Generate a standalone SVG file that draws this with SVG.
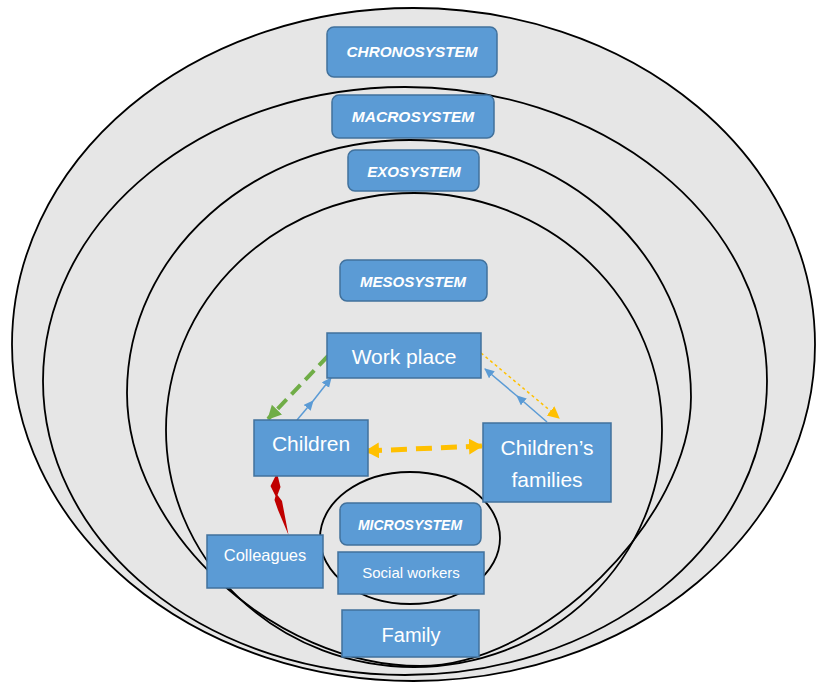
<svg xmlns="http://www.w3.org/2000/svg" width="816" height="684" viewBox="0 0 816 684">
  <style>
    .ring { fill: none; stroke: #000; stroke-width: 1.8; }
    .box { fill: #5b9bd5; stroke: #41719c; stroke-width: 1.5; }
    .sys { font-family: "Liberation Sans", Arial, sans-serif; font-weight: bold; font-style: italic; fill: #fff; text-anchor: middle; }
    .lbl { font-family: "Liberation Sans", Arial, sans-serif; fill: #fff; text-anchor: middle; }
  </style>
  <defs>
    <marker id="ahGreen" markerUnits="userSpaceOnUse" markerWidth="16" markerHeight="16" refX="13" refY="7" orient="auto">
      <path d="M0,0 L14,7 L0,14 Z" fill="#70ad47"/>
    </marker>
    <marker id="ahBlue" markerUnits="userSpaceOnUse" markerWidth="12" markerHeight="12" refX="9" refY="4.5" orient="auto">
      <path d="M0,0 L10,4.5 L0,9 Z" fill="#5b9bd5"/>
    </marker>
    <marker id="ahGold" markerUnits="userSpaceOnUse" markerWidth="14" markerHeight="14" refX="11" refY="6" orient="auto">
      <path d="M0,0 L12,6 L0,12 Z" fill="#ffc000"/>
    </marker>
    <marker id="ahGoldBig" markerUnits="userSpaceOnUse" markerWidth="18" markerHeight="18" refX="13" refY="8" orient="auto-start-reverse">
      <path d="M0,0 L14,8 L0,16 Z" fill="#ffc000"/>
    </marker>
  </defs>

  <!-- nested system rings: one grey field, outlines drawn on top -->
  <g id="rings">
    <ellipse cx="413.5" cy="344.5" rx="401.5" ry="336.5" fill="#e6e6e6"/>
    <ellipse class="ring" cx="413.5" cy="344.5" rx="401.5" ry="336.5"/>
    <ellipse class="ring" cx="405" cy="381" rx="362" ry="294"/>
    <path class="ring" d="M410,140 C565,140 691,255 691,397 C691,518 542,666 420,666 C274,666 127,530 127,393 C127,253 254,140 410,140 Z"/>
    <ellipse class="ring" cx="414" cy="430" rx="248" ry="237"/>
    <ellipse class="ring" cx="410" cy="538" rx="90" ry="66"/>
  </g>

  <!-- system labels -->
  <g id="chronosystem">
    <rect class="box" x="327" y="27" width="170" height="50" rx="7"/>
    <text class="sys" x="412" y="57" font-size="15.3">CHRONOSYSTEM</text>
  </g>
  <g id="macrosystem">
    <rect class="box" x="332" y="95" width="162" height="43" rx="7"/>
    <text class="sys" x="413" y="122" font-size="15.5">MACROSYSTEM</text>
  </g>
  <g id="exosystem">
    <rect class="box" x="348" y="150" width="131" height="41" rx="7"/>
    <text class="sys" x="414" y="177" font-size="15">EXOSYSTEM</text>
  </g>
  <g id="mesosystem">
    <rect class="box" x="340" y="260" width="147" height="41" rx="7"/>
    <text class="sys" x="413" y="287" font-size="15">MESOSYSTEM</text>
  </g>
  <g id="microsystem">
    <rect class="box" x="340" y="503" width="141" height="42" rx="7"/>
    <text class="sys" x="410" y="530" font-size="14">MICROSYSTEM</text>
  </g>

  <!-- connectors -->
  <g id="connectors" fill="none">
    <line x1="328" y1="356" x2="268" y2="419" stroke="#70ad47" stroke-width="4" stroke-dasharray="13 7" marker-end="url(#ahGreen)"/>
    <line x1="297" y1="420" x2="313" y2="401" stroke="#5b9bd5" stroke-width="1.5" marker-end="url(#ahBlue)"/>
    <line x1="313" y1="401" x2="331" y2="378" stroke="#5b9bd5" stroke-width="1.5" marker-end="url(#ahBlue)"/>
    <line x1="547" y1="422" x2="517" y2="396" stroke="#5b9bd5" stroke-width="1.5" marker-end="url(#ahBlue)"/>
    <line x1="517" y1="396" x2="485" y2="369" stroke="#5b9bd5" stroke-width="1.5" marker-end="url(#ahBlue)"/>
    <line x1="481" y1="353" x2="559" y2="418" stroke="#ffc000" stroke-width="1.5" stroke-dasharray="3 3" marker-end="url(#ahGold)"/>
    <line x1="366" y1="451" x2="482" y2="446" stroke="#ffc000" stroke-width="5" stroke-dasharray="16 9" marker-start="url(#ahGoldBig)" marker-end="url(#ahGoldBig)"/>
    <polygon points="277,473 280.5,487 277.5,495 282,501 288.5,535 278,510 274.5,500 275.5,496 270.5,486" fill="#c00000"/>
  </g>

  <!-- actors -->
  <g id="work-place">
    <rect class="box" x="327" y="333" width="154" height="45"/>
    <text class="lbl" x="404" y="364" font-size="21">Work place</text>
  </g>
  <g id="children">
    <rect class="box" x="254" y="420" width="114" height="56"/>
    <text class="lbl" x="311" y="451" font-size="21">Children</text>
  </g>
  <g id="childrens-families">
    <rect class="box" x="483" y="423" width="128" height="79"/>
    <text class="lbl" x="547" y="455" font-size="21">Children’s</text>
    <text class="lbl" x="547" y="487" font-size="21">families</text>
  </g>
  <g id="colleagues">
    <rect class="box" x="207" y="535" width="116" height="53"/>
    <text class="lbl" x="265" y="561" font-size="16.5">Colleagues</text>
  </g>
  <g id="social-workers">
    <rect class="box" x="338" y="552" width="146" height="42"/>
    <text class="lbl" x="411" y="578" font-size="15">Social workers</text>
  </g>
  <g id="family">
    <rect class="box" x="342" y="610" width="137" height="47"/>
    <text class="lbl" x="411" y="642" font-size="20">Family</text>
  </g>
</svg>
